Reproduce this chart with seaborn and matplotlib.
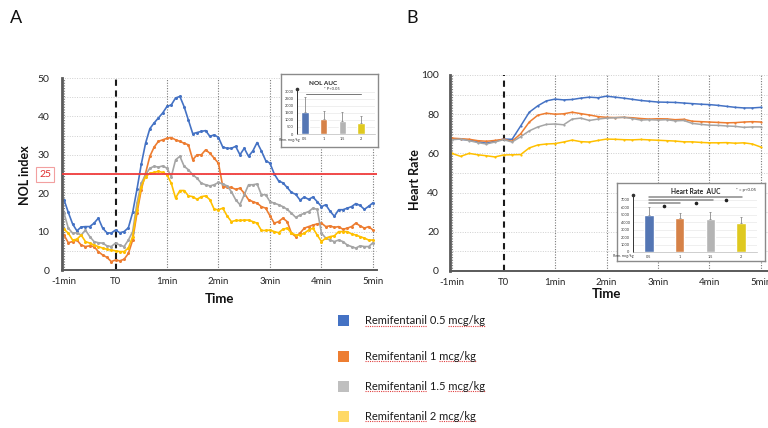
import numpy as np
import pandas as pd
import matplotlib
matplotlib.use("Agg")
import matplotlib.pyplot as plt
from matplotlib.patches import Rectangle
from matplotlib.lines import Line2D
import seaborn as sns

# ---------------- data ----------------
groups = ["Remifentanil 0.5 mcg/kg", "Remifentanil 1 mcg/kg",
          "Remifentanil 1.5 mcg/kg", "Remifentanil 2 mcg/kg"]
doses = ["0.5", "1", "1.5", "2"]
line_colors = ["#4472C4", "#ED7D31", "#A5A5A5", "#FFC000"]
legend_colors = ["#4472C4", "#ED7D31", "#BFBFBF", "#FFD966"]
bar_colors = ["#4472C4", "#ED7D31", "#B4B4B4", "#FFE100"]

xtick_pos = [-1, 0, 1, 2, 3, 4, 5]
xtick_labels = ["-1min", "T0", "1min", "2min", "3min", "4min", "5min"]

# NOL index, every 5 s from -60 s to +300 s
nol_time_s = list(range(-60, 301, 5))
nol_05 = [18.3, 15.0, 12.0, 10.2, 11.2, 11.3, 11.3, 12.2, 13.5, 10.9,
          9.7, 9.6, 10.4, 9.7, 10.0, 11.0, 15.0, 21.0, 27.5, 33.0,
          36.8, 38.3, 39.6, 40.9, 42.6, 43.0, 44.8, 45.2, 42.5, 39.0,
          35.5, 35.8, 36.1, 36.3, 34.8, 35.2, 34.5, 32.0, 31.7, 31.7,
          32.2, 30.0, 31.7, 29.6, 31.0, 33.2, 31.0, 28.5, 27.8, 25.0,
          23.2, 22.7, 21.5, 20.2, 19.7, 18.2, 19.0, 18.4, 19.0, 17.8,
          16.5, 17.0, 15.3, 14.0, 15.7, 15.7, 16.1, 16.5, 17.3, 16.8,
          15.8, 16.6, 17.5]
nol_1 = [9.1, 7.1, 7.4, 7.8, 6.5, 6.1, 6.3, 6.1, 4.8, 3.9,
         3.3, 2.2, 2.6, 2.4, 2.8, 4.3, 7.8, 14.8, 20.9, 25.2,
         29.6, 32.0, 33.5, 33.9, 34.3, 34.5, 33.9, 33.5, 33.0, 32.6,
         28.7, 30.0, 30.0, 31.3, 30.4, 29.1, 27.8, 21.7, 21.6, 21.5,
         21.0, 21.3, 20.0, 18.3, 17.8, 17.4, 16.5, 16.1, 14.1, 12.2,
         12.6, 13.5, 12.6, 9.6, 8.7, 9.6, 10.9, 11.3, 11.7, 12.0,
         12.2, 11.3, 11.5, 11.1, 11.3, 10.6, 10.9, 11.3, 12.2, 11.5,
         10.9, 11.3, 10.4]
nol_15 = [14.8, 10.9, 9.6, 9.7, 9.1, 10.4, 8.7, 7.4, 7.1, 7.0,
          6.3, 6.1, 7.0, 6.5, 6.1, 7.8, 10.0, 17.4, 22.6, 24.8,
          26.5, 27.0, 26.8, 27.1, 26.5, 24.3, 28.7, 29.6, 27.0, 26.1,
          24.8, 23.9, 22.6, 22.2, 21.9, 22.2, 22.8, 22.4, 21.9, 20.4,
          18.3, 17.0, 19.6, 22.2, 22.2, 22.4, 19.6, 19.6, 17.8, 17.4,
          17.0, 16.5, 15.8, 14.8, 13.7, 14.3, 14.8, 15.2, 16.1, 15.8,
          9.6, 8.3, 7.8, 7.4, 7.8, 7.4, 6.5, 6.1, 5.7, 6.3,
          6.1, 6.1, 7.1]
nol_2 = [10.6, 9.6, 7.8, 8.0, 9.1, 7.4, 7.0, 6.5, 6.1, 5.7,
         5.4, 5.2, 5.0, 4.8, 4.8, 5.7, 8.7, 15.7, 21.7, 24.3,
         25.2, 25.4, 25.7, 25.4, 24.8, 22.6, 18.7, 20.7, 20.7, 19.3,
         19.1, 18.4, 19.1, 19.3, 18.3, 15.8, 15.7, 16.1, 14.1, 12.6,
         12.9, 12.9, 13.0, 13.0, 12.6, 12.2, 10.3, 10.3, 10.4, 10.0,
         9.7, 10.6, 10.9, 9.6, 9.1, 9.1, 9.6, 10.4, 10.9, 9.1,
         7.4, 8.3, 8.7, 8.9, 10.0, 10.0, 10.0, 9.4, 9.1, 8.7,
         8.3, 7.8, 7.8]

# Heart rate, every 10 s from -60 s to +300 s
hr_time_s = list(range(-60, 301, 10))
hr_05 = [67.3, 67.2, 66.8, 66.0, 65.2, 66.2, 67.3, 67.2, 74.0, 81.0,
         84.3, 86.8, 87.7, 87.3, 87.5, 88.2, 88.7, 88.4, 89.2, 88.7,
         88.2, 87.6, 87.0, 86.6, 86.2, 86.1, 86.0, 85.7, 85.4, 85.1,
         84.9, 84.5, 84.0, 83.5, 83.2, 83.2, 83.5]
hr_1 = [67.8, 67.5, 67.2, 66.5, 66.2, 66.6, 67.2, 66.2, 70.0, 76.0,
        79.5, 80.5, 80.0, 80.2, 81.0, 80.3, 79.6, 78.8, 78.4, 78.3,
        78.4, 78.2, 77.8, 77.5, 77.7, 77.6, 77.2, 77.4, 76.4, 76.2,
        76.0, 75.8, 75.6, 75.7, 76.0, 76.2, 76.0]
hr_15 = [67.0, 67.3, 66.5, 65.5, 64.8, 65.8, 67.0, 65.8, 68.5, 71.5,
         73.5, 74.8, 75.0, 74.6, 77.5, 78.0, 76.8, 77.5, 78.0, 78.2,
         78.4, 77.8, 77.0, 77.2, 77.0, 77.2, 76.6, 76.8, 75.3, 74.8,
         74.4, 74.3, 74.0, 73.8, 73.3, 73.5, 73.5]
hr_2 = [60.0, 58.5, 60.0, 59.3, 58.8, 58.2, 59.2, 59.3, 59.4, 62.8,
        64.3, 64.8, 65.0, 65.8, 66.8, 66.0, 65.8, 66.6, 67.3, 67.2,
        67.0, 66.9, 67.1, 66.9, 66.7, 66.5, 66.3, 65.9, 65.9, 65.6,
        65.4, 65.4, 65.5, 65.2, 65.4, 64.8, 63.2]

# AUC insets
nol_auc = [1550, 1080, 950, 800]
nol_auc_err = [1050, 550, 600, 500]
hr_auc = [4970, 4520, 4380, 3840]
hr_auc_err = [1130, 680, 1040, 810]


def long_df(times_s, series):
    rows = []
    for g, vals in zip(groups, series):
        for t, v in zip(times_s, vals):
            rows.append({"t": t / 60.0, "v": v, "g": g})
    return pd.DataFrame(rows)


df_nol = long_df(nol_time_s, [nol_05, nol_1, nol_15, nol_2])
df_hr = long_df(hr_time_s, [hr_05, hr_1, hr_15, hr_2])

# ---------------- figure ----------------
sns.set_theme(style="white")
plt.rcParams["font.family"] = ["Lato", "DejaVu Sans"]

W, H = 768.0, 428.0
fig = plt.figure(figsize=(7.68, 4.28), dpi=100)
fig.patch.set_facecolor("white")


def px_axes(l, t, r, b):
    return fig.add_axes([l / W, 1 - b / H, (r - l) / W, (b - t) / H])


def ftext(x, y, s, **kw):
    return fig.text(x / W, 1 - y / H, s, **kw)


def main_panel(ax, df, xlim, ylim, yticks, gstep, ms, lw, ypad):
    for v in np.arange(gstep, ylim[1] + 0.01, gstep):
        ax.axhline(v, color="#CFCFCF", lw=0.7, ls=(0, (1, 1.5)), zorder=0)
    for m in [-1, 1, 2, 3, 4, 5]:
        ax.axvline(m, color="#7A7A7A", lw=0.8, ls=(0, (1, 1.4)), zorder=1)
    ax.axvline(0, color="#1A1A1A", lw=1.5, ls=(0, (3, 2.2)), zorder=1)
    sns.lineplot(data=df, x="t", y="v", hue="g", hue_order=groups,
                 palette=line_colors, marker="o", markersize=ms,
                 markeredgewidth=0, linewidth=lw, errorbar=None,
                 legend=False, ax=ax, zorder=2)
    ax.set_xlim(*xlim)
    ax.set_ylim(*ylim)
    ax.set_xticks(xtick_pos)
    ax.set_xticklabels(xtick_labels)
    ax.set_yticks(yticks)
    ax.tick_params(axis="x", length=0, labelsize=7, pad=5, colors="#262626")
    ax.tick_params(axis="y", length=0, labelsize=7.5, pad=ypad, colors="#262626")
    ax.set_xlabel("")
    ax.set_ylabel("")
    for s in ["top", "right"]:
        ax.spines[s].set_visible(False)
    ax.spines["left"].set_color("#5A5A5A")
    ax.spines["left"].set_linewidth(2.0)
    ax.spines["bottom"].set_color("#5A5A5A")
    ax.spines["bottom"].set_linewidth(1.4)
    ax.set_facecolor("white")


# Panel A
axA = px_axes(62, 78, 377, 270)
main_panel(axA, df_nol, (-1.039, 5.078), (0, 50), [0, 10, 20, 30, 40, 50],
           5, 2.2, 1.2, 9)
axA.axhline(25, color="#F03C3C", lw=1.3, zorder=3)
ftext(45, 174.5, "25", fontsize=7.5, color="#E03030", ha="center", va="center",
      bbox=dict(boxstyle="square,pad=0.3", fc="white", ec="#F2A0A0", lw=0.8))

# Panel B
axB = px_axes(450, 75, 768, 271)
main_panel(axB, df_hr, (-1.039, 5.136), (0, 100), [0, 20, 40, 60, 80, 100],
           10, 1.6, 1.1, 8)

# titles / labels
ftext(16, 18, "A", fontsize=13, ha="center", va="center", color="#111111")
ftext(412, 18, "B", fontsize=13, ha="center", va="center", color="#111111")
ftext(25, 175, "NOL index", fontsize=9, fontweight="bold", rotation=90,
      ha="center", va="center", color="#111111")
ftext(219, 299, "Time", fontsize=9.5, fontweight="bold", ha="center",
      va="center", color="#111111")
ftext(415, 180, "Heart Rate", fontsize=9, fontweight="bold", rotation=90,
      ha="center", va="center", color="#111111")
ftext(606, 294, "Time", fontsize=9.5, fontweight="bold", ha="center",
      va="center", color="#111111")


def inset(box, inner, ylim, yticks, vals, errs, width, xlim, lab_pad):
    bx = px_axes(*box)
    bx.set_facecolor("white")
    bx.set_xticks([])
    bx.set_yticks([])
    for s in bx.spines.values():
        s.set_color("#8A8A8A")
        s.set_linewidth(1.0)
    ia = px_axes(*inner)
    ia.set_facecolor("white")
    for v in yticks[1:]:
        ia.axhline(v, color="#E3E3E3", lw=0.4, zorder=0)
    sns.barplot(x=doses, y=vals, hue=doses, palette=bar_colors, legend=False,
                width=width, ax=ia, zorder=2)
    ia.errorbar(range(4), vals, yerr=[[0] * 4, errs], fmt="none",
                ecolor="#8A8A8A", elinewidth=0.6, capsize=1.0, capthick=0.6,
                zorder=3)
    ia.set_xlim(*xlim)
    ia.set_ylim(*ylim)
    ia.set_yticks(yticks)
    ia.tick_params(axis="both", length=0, labelsize=2.8, pad=lab_pad,
                   colors="#333333")
    ia.set_xlabel("")
    ia.set_ylabel("")
    for s in ["top", "right"]:
        ia.spines[s].set_visible(False)
    ia.spines["left"].set_color("#333333")
    ia.spines["left"].set_linewidth(0.7)
    ia.spines["bottom"].set_color("#BBBBBB")
    ia.spines["bottom"].set_linewidth(0.5)
    ia.plot([0], [1], marker="o", ms=1.6, color="#333333",
            transform=ia.transAxes, clip_on=False)
    return ia


# NOL AUC inset
ia1 = inset((281, 74, 378, 147), (297, 89, 375, 134), (0, 3200),
            [0, 500, 1000, 1500, 2000, 2500, 3000], nol_auc, nol_auc_err,
            0.38, (-0.43, 3.75), 2.5)
ftext(323, 83.5, "NOL AUC", fontsize=4.6, fontweight="bold", ha="center",
      va="center", color="#222222")
ftext(332, 89, "* P<0.05", fontsize=3, ha="center", va="center",
      color="#333333")
ia1.plot([0.05, 3.0], [2860, 2860], color="#777777", lw=0.7, zorder=4)
ftext(289, 140.5, "Rem. mcg/kg", fontsize=2.6, ha="center", va="center",
      color="#333333")

# Heart rate AUC inset
ia2 = inset((617, 183, 765, 261), (633, 195, 757, 252), (0, 7670),
            [0, 1000, 2000, 3000, 4000, 5000, 6000, 7000], hr_auc, hr_auc_err,
            0.3, (-0.52, 3.52), 2.5)
ftext(696, 191, "Heart Rate  AUC", fontsize=4.8, fontweight="bold",
      ha="center", va="center", color="#222222")
ftext(746, 190, "* = p<0.05", fontsize=3.2, ha="center", va="center",
      color="#333333")
ia2.plot([0, 3.03], [7400, 7400], color="#8A8A8A", lw=1.1, zorder=4)
ia2.plot([0, 2.08], [7000, 7000], color="#8A8A8A", lw=1.1, zorder=4)
ia2.plot([0, 1.0], [6600, 6600], color="#8A8A8A", lw=1.1, zorder=4)
for sx, sy in [(0.49, 6190), (1.53, 6600), (2.5, 7000)]:
    ia2.plot([sx], [sy], marker="o", ms=1.6, color="#222222", zorder=5)
ftext(623, 256.5, "Rem. mcg/kg", fontsize=2.6, ha="center", va="center",
      color="#333333")

# ---------------- legend ----------------
fig.canvas.draw()
renderer = fig.canvas.get_renderer()
leg_y = [320.5, 356, 386, 416]
for c, g, yc in zip(legend_colors, groups, leg_y):
    fig.add_artist(Rectangle((338 / W, 1 - (yc + 5.5) / H), 11 / W, 11 / H,
                             transform=fig.transFigure, color=c, lw=0))
    t_full = ftext(365, yc, g, fontsize=8, ha="left", va="center",
                   color="#1A1A1A")
    t_rem = ftext(365, yc, "Remifentanil", fontsize=8, ha="left",
                  va="center", alpha=0)
    t_mcg = ftext(365, yc, "mcg/kg", fontsize=8, ha="left", va="center",
                  alpha=0)
    bf = t_full.get_window_extent(renderer)
    br = t_rem.get_window_extent(renderer)
    bm = t_mcg.get_window_extent(renderer)
    yl = (bf.y0 + 0.5) / H
    fig.add_artist(Line2D([br.x0 / W, br.x1 / W], [yl, yl],
                          transform=fig.transFigure, color="#E04040",
                          lw=0.8, ls=(0, (1, 1))))
    fig.add_artist(Line2D([(bf.x1 - bm.width) / W, bf.x1 / W], [yl, yl],
                          transform=fig.transFigure, color="#E04040",
                          lw=0.8, ls=(0, (1, 1))))

fig.savefig("out.png", dpi=100, facecolor="white")
